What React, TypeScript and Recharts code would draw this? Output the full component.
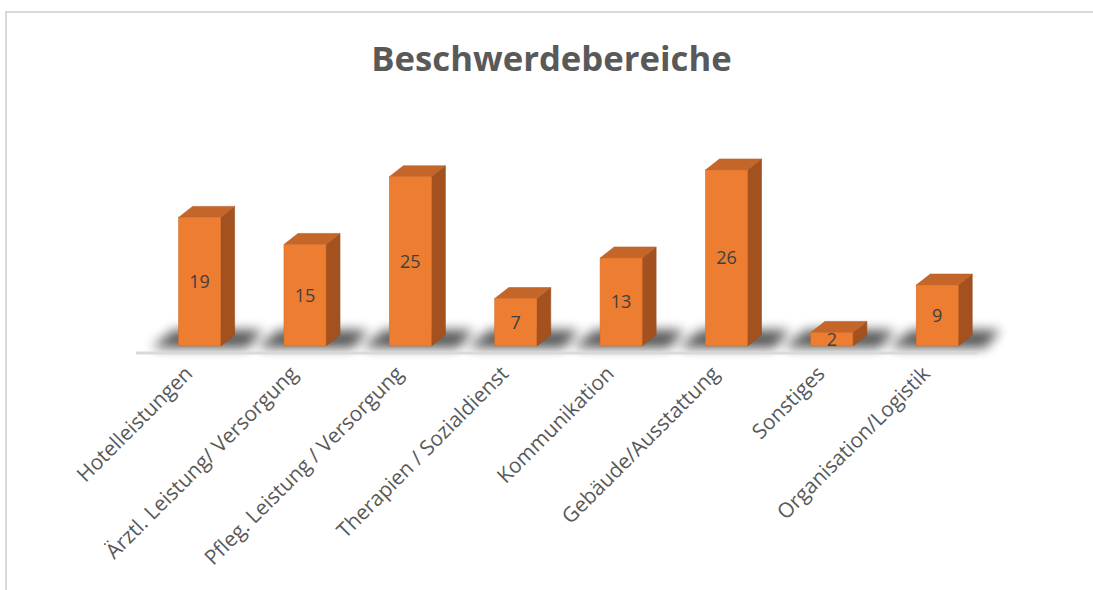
import React from 'react';
import { BarChart, Bar, XAxis, YAxis, LabelList, ReferenceLine } from 'recharts';

const categories = [
  'Hotelleistungen',
  'Ärztl. Leistung/ Versorgung',
  'Pfleg. Leistung / Versorgung',
  'Therapien / Sozialdienst',
  'Kommunikation',
  'Gebäude/Ausstattung',
  'Sonstiges',
  'Organisation/Logistik',
];
const values = [19, 15, 25, 7, 13, 26, 2, 9];

const data = categories.map((name, i) => ({ name, value: values[i] }));

const FONT = '"Open Sans", "Noto Sans", sans-serif';
const DEPTH_X = 14;
const DEPTH_Y = 11;

const Bar3D = (props: any) => {
  const { x, y, width, height } = props;
  const w = width;
  const base = y + height;
  const dx = DEPTH_X;
  const dy = DEPTH_Y;
  return (
    <g>
      <polygon
        points={`${x - 27},${base + 2} ${x + w + 27},${base + 2} ${x + w + 42},${base - 16} ${x - 5},${base - 16}`}
        fill="#000"
        opacity={0.65}
        filter="url(#shadowBlur)"
      />
      <polygon
        points={`${x + w},${y} ${x + w + dx},${y - dy} ${x + w + dx},${base - dy} ${x + w},${base}`}
        fill="#a3521f"
        stroke="#9a4c1c"
        strokeWidth={0.6}
      />
      <polygon
        points={`${x},${y} ${x + dx},${y - dy} ${x + w + dx},${y - dy} ${x + w},${y}`}
        fill="#c4662a"
        stroke="#b85e26"
        strokeWidth={0.6}
      />
      <rect x={x} y={y} width={w} height={height} fill="#ed7d31" stroke="#d86f28" strokeWidth={0.6} />
    </g>
  );
};

const Tick = (props: any) => {
  const { x, y, payload } = props;
  return (
    <text
      transform={`translate(${x - 6},${y + 29}) rotate(-45)`}
      textAnchor="end"
      fill="#595959"
      fontSize={20.8}
      fontFamily={FONT}
    >
      {payload.value}
    </text>
  );
};

const Floor = (p: any) => (
  <line x1={p.x1 - 11} y1={p.y1 + 7} x2={p.x2 - 12} y2={p.y2 + 7} stroke="#d9d9d9" strokeWidth={3} />
);

export default function App() {
  return (
    <div style={{ position: 'absolute', left: 0, top: 0, width: 1093, height: 590, background: '#fff', overflow: 'hidden' }}>
      <div
        style={{
          position: 'absolute',
          left: 5,
          top: 11,
          width: 1200,
          height: 700,
          borderLeft: '2px solid #d9d9d9',
          borderTop: '2px solid #d9d9d9',
        }}
      />
      <div
        style={{
          position: 'absolute',
          left: 0,
          width: 1103,
          top: 34,
          textAlign: 'center',
          fontFamily: FONT,
          fontWeight: 700,
          fontSize: 34.7,
          color: '#595959',
        }}
      >
        Beschwerdebereiche
      </div>
      <div style={{ position: 'absolute', left: 0, top: 0 }}>
        <BarChart
          width={1093}
          height={590}
          data={data}
          margin={{ top: 170, right: 103, left: 147, bottom: 0 }}
          barCategoryGap="30%"
          style={{ fontFamily: FONT }}
        >
          <defs>
            <filter id="shadowBlur" x="-50%" y="-100%" width="200%" height="300%">
              <feGaussianBlur stdDeviation="6" />
            </filter>
          </defs>
          <YAxis hide domain={[0, 26]} />
          <XAxis
            dataKey="name"
            height={244}
            interval={0}
            tickLine={false}
            axisLine={false}
            tickSize={0}
            tickMargin={0}
            tick={<Tick />}
          />
          <ReferenceLine y={0} shape={<Floor />} />
          <Bar dataKey="value" shape={<Bar3D />} isAnimationActive={false}>
            <LabelList dataKey="value" position="center" fill="#404040" fontSize={18} fontFamily={FONT} />
          </Bar>
        </BarChart>
      </div>
    </div>
  );
}
